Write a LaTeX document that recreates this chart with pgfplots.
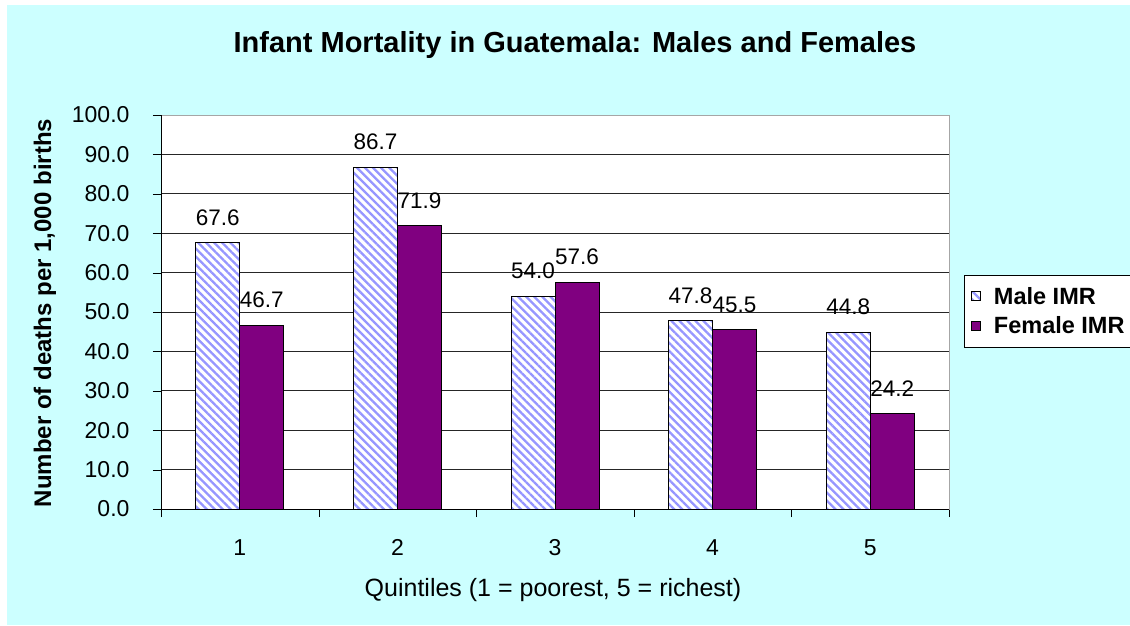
\documentclass[border=0pt]{standalone}
\usepackage{fontspec}
\setmainfont{Liberation Sans}
\usepackage{pgfplots}
\pgfplotsset{compat=1.18}
\usetikzlibrary{patterns.meta}
\definecolor{bgcyan}{RGB}{204,255,255}
\definecolor{imrpurple}{RGB}{128,0,128}
\definecolor{stripeblue}{RGB}{150,150,255}

\begin{document}
\begin{tikzpicture}
\useasboundingbox (0,0) rectangle (1130pt,625pt);
\fill[white] (0,0) rectangle (1130pt,625pt);
\fill[bgcyan] (7pt,0) rectangle (1130pt,620pt);
\node[font=\bfseries\fontsize{29}{33}\selectfont] at (575pt,580pt)
  {Infant Mortality in Guatemala: Males and Females};
\node[rotate=90,font=\bfseries\fontsize{24}{28}\selectfont] at (45pt,312pt)
  {Number of deaths per 1,000 births};
\node[font=\fontsize{25}{29}\selectfont] at (553pt,35pt)
  {Quintiles (1 = poorest, 5 = richest)};
\begin{axis}[
  at={(161pt,116pt)},
  anchor=south west,
  scale only axis,
  width=788pt,
  height=394pt,
  axis background/.style={fill=white},
  ybar=0pt,
  bar width=44pt,
  xmin=0.5, xmax=5.5,
  ymin=0, ymax=100,
  xtick={1,2,3,4,5},
  minor xtick={0.5,1.5,2.5,3.5,4.5,5.5},
  ytick={0,10,...,100},
  tick pos=left,
  tick align=outside,
  major tick length=8pt,
  minor tick length=8pt,
  x tick style={draw=none},
  minor x tick style={draw=black},
  y tick style={black},
  ymajorgrids=true,
  grid style={black!85,line width=0.9pt},
  axis line style={gray!70,line width=0.9pt},
  tick label style={font=\fontsize{23}{26}\selectfont},
  /pgf/number format/assume math mode=true,
  xticklabel style={yshift=-19pt},
  yticklabel style={xshift=-20pt,/pgf/number format/.cd,fixed,fixed zerofill,precision=1},
  nodes near coords,
  nodes near coords style={font=\fontsize{22.5}{26}\selectfont,inner sep=0pt,
    anchor=south,yshift=17pt,
    /pgf/number format/.cd,fixed,fixed zerofill,precision=1},
  legend style={
    at={(axis description cs:1.019,0.594)},
    anchor=north west,
    draw=black,
    fill=white,
    font=\bfseries\fontsize{23.5}{26}\selectfont,
    row sep=7pt,
    inner xsep=7pt,
    inner ysep=10pt,
    /tikz/every odd column/.append style={column sep=11pt},
  },
  legend cell align=left,
  legend image code/.code={\draw[#1] (0pt,-4pt) rectangle (9pt,5pt);},
]
\addplot[draw=black,line width=0.8pt,preaction={fill=white},
  pattern={Lines[angle=-45,distance=5.7pt,line width=2.3pt]},
  pattern color=stripeblue]
  coordinates {(1,67.6) (2,86.7) (3,54.0) (4,47.8) (5,44.8)};
\addlegendentry{Male IMR}
\addplot[draw=black,line width=0.8pt,fill=imrpurple]
  coordinates {(1,46.7) (2,71.9) (3,57.6) (4,45.5) (5,24.2)};
\addlegendentry{Female IMR}
\draw[black,line width=0.9pt] (rel axis cs:0,0) -- (rel axis cs:0,1);
\draw[black,line width=0.9pt] (rel axis cs:0,0) -- (rel axis cs:1,0);
\end{axis}
\end{tikzpicture}
\end{document}
